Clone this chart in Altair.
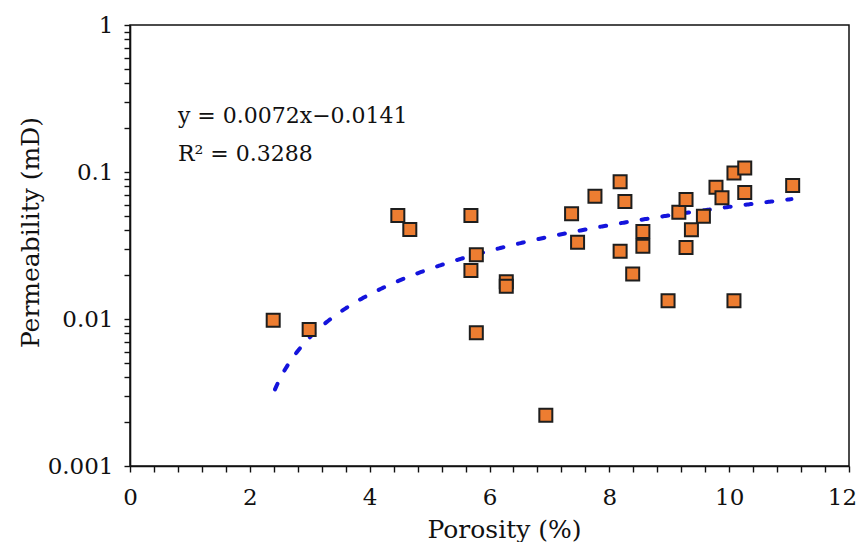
import altair as alt
import pandas as pd

# Porosity (%) and permeability (mD)
porosity = [2.39, 2.99, 4.47, 4.67, 5.69, 5.78, 5.69, 6.28, 6.28, 5.78, 6.94,
            7.37, 7.47, 7.76, 8.18, 8.26, 8.18, 8.56, 8.56, 8.39, 8.98,
            9.16, 9.28, 9.28, 9.37, 9.57, 9.78, 9.88, 10.08, 10.26, 10.26,
            10.08, 11.06]
permeability = [0.0098, 0.00849, 0.0506, 0.0406, 0.0506, 0.0274, 0.0214, 0.0179,
                0.0167, 0.00806, 0.00221, 0.0519, 0.0333, 0.0684, 0.0857, 0.0629,
                0.0289, 0.0394, 0.0313, 0.0202, 0.0133, 0.0532, 0.0649, 0.0306,
                0.0404, 0.050, 0.0787, 0.0667, 0.0986, 0.1066, 0.0725, 0.0133,
                0.0808]

# Trend line as stated on the chart
slope = 0.0072
intercept = -0.0141
trend_start = 2.42
trend_end = 11.06

eq_text = ["y = 0.0072x\u22120.0141", "R\u00b2 = 0.3288"]
eq_x = [0.80, 0.80]
eq_y = [0.2158, 0.1183]

x_ticks = [round(i * 0.4, 1) for i in range(31)]
y_ticks = [round(k * d, 4) for d in (0.001, 0.01, 0.1) for k in range(1, 10)] + [1.0]

FONT = "DejaVu Serif"
LABEL_SIZE = 23

pts = pd.DataFrame({"x": porosity, "y": permeability})
eq = pd.DataFrame({"x": eq_x, "y": eq_y, "t": eq_text})

is_decade = "abs(log(datum.value)/LN10 - round(log(datum.value)/LN10)) < 0.001"

x_scale = alt.Scale(domain=[0, 12], nice=False, zero=False)
y_scale = alt.Scale(type="log", domain=[0.001, 1], nice=False)

x_axis = alt.Axis(
    values=x_ticks,
    labelExpr="datum.value % 2 === 0 ? toString(datum.value) : ''",
    labelOffset={"condition": {"test": "datum.value === 12", "value": -7}, "value": 0},
    tickSize=6,
    labelPadding=14,
    labelOverlap="greedy",
    labelFlush=False,
    labelFont=FONT,
    labelFontSize=LABEL_SIZE,
    labelColor="#111111",
    grid=False,
    title="Porosity (%)",
    titleX=374,
    titleY=71,
    titleAlign="center",
    titleBaseline="alphabetic",
    titleFont=FONT,
    titleFontSize=25,
    titleFontWeight="normal",
    titleColor="#111111",
)
y_axis = alt.Axis(
    values=y_ticks,
    labelExpr=is_decade + " ? toString(datum.value) : ''",
    tickSize=6,
    labelPadding=11,
    labelOverlap="greedy",
    labelFlush=False,
    labelFont=FONT,
    labelFontSize=LABEL_SIZE,
    labelColor="#111111",
    grid=False,
    title="Permeability (mD)",
    titleAngle=270,
    titleX=-92,
    titleY=207,
    titleAlign="center",
    titleBaseline="alphabetic",
    titleFont=FONT,
    titleFontSize=25,
    titleFontWeight="normal",
    titleColor="#111111",
)

trend = (
    alt.Chart(alt.sequence(trend_start, trend_end, 0.02, as_="x"))
    .transform_calculate(y=f"{slope} * datum.x + ({intercept})")
    .mark_line(color="#1414dc", strokeWidth=4, strokeDash=[6, 15], strokeCap="round")
    .encode(x=alt.X("x:Q", scale=x_scale, axis=x_axis),
            y=alt.Y("y:Q", scale=y_scale, axis=y_axis))
)

points = (
    alt.Chart(pts)
    .mark_point(shape="square", filled=True, fill="#ED7D31", stroke="#1e1e1e",
                strokeWidth=2, size=169, opacity=1)
    .encode(x=alt.X("x:Q", scale=x_scale, axis=x_axis),
            y=alt.Y("y:Q", scale=y_scale, axis=y_axis))
)

labels = (
    alt.Chart(eq)
    .mark_text(align="left", baseline="alphabetic", font=FONT, fontSize=22, color="#111111")
    .encode(x=alt.X("x:Q", scale=x_scale, axis=x_axis),
            y=alt.Y("y:Q", scale=y_scale, axis=y_axis), text="t:N")
)

chart = (
    alt.layer(trend, points, labels)
    .properties(
        width=719,
        height=441,
        autosize=alt.AutoSizeParams(type="none"),
        padding={"left": 122, "top": 17, "right": 8, "bottom": 76},
    )
    .configure(background="white")
    .configure_view(stroke="#111111", strokeWidth=1.5)
    .configure_axis(
        domainColor="#111111",
        domainWidth=1.6,
        tickColor="#111111",
        tickWidth=1.4,
        labelFont=FONT,
        labelFontSize=LABEL_SIZE,
        labelColor="#111111",
        titleFont=FONT,
        titleFontSize=25,
        titleFontWeight="normal",
        titleColor="#111111",
    )
)

chart.save("out.html", embed_options={"renderer": "svg", "actions": False})
